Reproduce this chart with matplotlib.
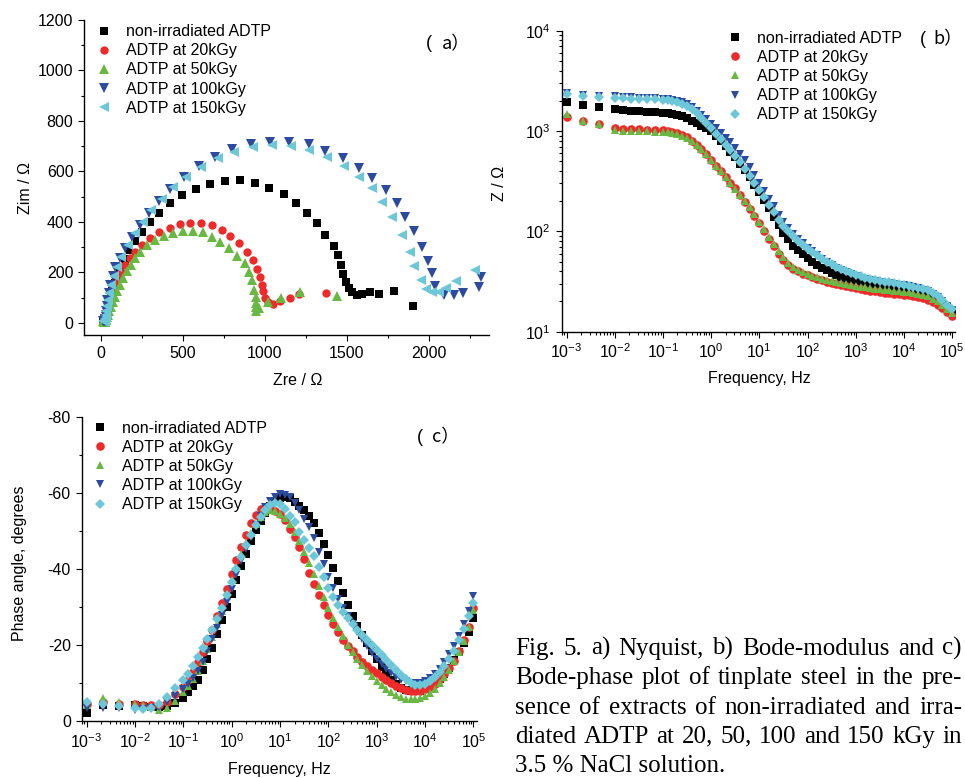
import numpy as np
import matplotlib
matplotlib.use("Agg")
import matplotlib.pyplot as plt
from matplotlib.lines import Line2D
from matplotlib.ticker import MultipleLocator, LogLocator, NullFormatter, FixedLocator

plt.rcParams['font.family'] = 'Liberation Sans'
plt.rcParams['mathtext.fontset'] = 'custom'
plt.rcParams['mathtext.rm'] = 'Liberation Sans'
plt.rcParams['mathtext.it'] = 'Liberation Sans:italic'
plt.rcParams['mathtext.bf'] = 'Liberation Sans:bold'
plt.rcParams['axes.unicode_minus'] = False

labels = ['non-irradiated ADTP', 'ADTP at 20kGy', 'ADTP at 50kGy',
          'ADTP at 100kGy', 'ADTP at 150kGy']
colors = ['#000000', '#EE2A2A', '#6AB844', '#2C4A9E', '#6CC8D8']

# ---- Nyquist (a): Zre / Zim in ohm, low frequency first ----
nyq_re_black = [1904, 1786, 1695, 1638, 1590, 1563, 1533, 1513, 1497, 1478, 1466, 1446, 1418, 1367, 1316,
                1256, 1189, 1118, 1027, 942, 849, 759, 666, 581, 495, 423, 358, 302, 251, 210, 175, 145,
                120, 100, 84, 70, 60, 52, 46, 41, 38, 35, 33, 31, 29, 27, 25, 22, 19, 16, 14]
nyq_im_black = [67, 128, 115, 124, 115, 111, 122, 137, 161, 194, 230, 267, 306, 348, 395,
                434, 474, 510, 536, 553, 565, 562, 552, 532, 507, 474, 437, 401, 362, 325, 290, 255,
                220, 188, 158, 128, 100, 75, 55, 40, 28, 20, 14, 10, 7, 6, 6, 7, 8, 8, 7]

nyq_re_red = [1370, 1206, 1151, 1094, 1049, 1020, 1000, 990, 980, 970, 952, 926, 892, 842, 790, 738,
              677, 612, 546, 480, 420, 352, 298, 251, 211, 180, 150, 125, 105, 88, 75, 64, 55, 47, 41,
              36, 32, 29, 27, 25, 23, 21, 19, 16, 13]
nyq_im_red = [120, 114, 100, 86, 76, 82, 100, 125, 150, 182, 214, 250, 282, 316, 345, 368,
              388, 397, 397, 391, 376, 359, 335, 309, 282, 256, 230, 203, 176, 150, 124, 100, 78, 58, 42,
              30, 21, 15, 10, 7, 6, 6, 7, 7, 6]

nyq_re_green = [1438, 1215, 1096, 1020, 962, 948, 946, 946, 943, 936, 922, 906, 880, 830, 779, 728,
                677, 620, 561, 499, 440, 383, 328, 281, 241, 211, 184, 160, 138, 118, 100, 85, 72, 61,
                52, 45, 39, 35, 32, 29, 27, 25, 23, 20, 17, 14]
nyq_im_green = [108, 124, 97, 84, 60, 48, 62, 80, 104, 131, 168, 203, 236, 265, 296, 322,
                342, 359, 366, 366, 355, 345, 329, 309, 282, 256, 230, 204, 178, 152, 128, 104, 82, 62,
                46, 33, 23, 16, 11, 7, 5, 4, 4, 5, 6, 6]

nyq_re_blue = [2315, 2303, 2205, 2151, 2090, 2035, 2015, 1995, 1955, 1906, 1853, 1803, 1736, 1655, 1574,
               1478, 1367, 1266, 1149, 1031, 917, 800, 694, 598, 507, 424, 355, 294, 237, 193, 150, 115,
               90, 72, 58, 48, 41, 36, 33, 31, 30, 29, 28, 27, 25, 23, 20, 17, 15]
nyq_im_blue = [181, 144, 120, 111, 111, 147, 197, 246, 300, 366, 421, 476, 525, 575, 615,
               654, 682, 709, 718, 718, 710, 688, 659, 623, 579, 530, 483, 434, 388, 342, 296, 256,
               220, 185, 150, 118, 90, 66, 47, 33, 23, 16, 11, 8, 7, 7, 8, 9, 9]

nyq_re_cyan = [2279, 2161, 2104, 2060, 2019, 1983, 1952, 1908, 1882, 1833, 1772, 1711, 1651, 1574, 1483,
               1381, 1270, 1159, 1043, 925, 814, 713, 612, 521, 440, 375, 308, 257, 207, 166, 126, 98,
               78, 62, 51, 43, 38, 34, 32, 30, 29, 28, 27, 25, 23, 20, 17, 15]
nyq_im_cyan = [210, 164, 137, 124, 124, 133, 168, 226, 282, 350, 421, 480, 533, 579, 622,
               659, 685, 701, 705, 695, 678, 652, 619, 579, 540, 490, 448, 401, 355, 309, 263, 222,
               185, 150, 118, 90, 66, 47, 33, 23, 16, 11, 8, 7, 7, 8, 9, 9]

# ---- Bode data (b, c) ----
freq = [0.001, 0.00215, 0.00464, 0.01, 0.0147, 0.0215, 0.0316, 0.0464, 0.0681,
        0.1, 0.126, 0.158, 0.2, 0.251, 0.316, 0.398, 0.501, 0.631, 0.794,
        1, 1.26, 1.58, 2, 2.51, 3.16, 3.98, 5.01, 6.31, 7.94,
        10, 12.6, 15.8, 20, 25.1, 31.6, 39.8, 50.1, 63.1, 79.4,
        100, 126, 158, 200, 251, 316, 398, 501, 631, 794,
        1000, 1260, 1580, 2000, 2510, 3160, 3980, 5010, 6310, 7940,
        10000, 12600, 15800, 20000, 25100, 31600, 39800, 50100, 63100, 79400,
        100000]
decade_ticks = [1e-3, 1e-2, 1e-1, 1e0, 1e1, 1e2, 1e3, 1e4, 1e5]

z_black = [1930, 1820, 1740, 1660, 1620, 1590, 1570, 1555, 1540,
           1520, 1505, 1485, 1455, 1410, 1350, 1270, 1200, 1130, 1070,
           1010, 900, 800, 710, 625, 545, 472, 405, 345, 292,
           246, 205, 170, 140, 116, 97, 83, 72, 65, 59,
           54, 50, 46.5, 43.5, 41, 38.8, 37, 35.3, 33.8, 32.5,
           31.4, 30.4, 29.6, 28.9, 28.3, 27.8, 27.4, 27, 26.6, 26.3,
           26, 25.6, 25.2, 24.6, 24, 23.2, 22.1, 20.7, 19.1, 17.5,
           16]
z_red = [1380, 1250, 1170, 1070, 1055, 1045, 1040, 1035, 1030,
         1020, 1005, 985, 955, 915, 865, 800, 730, 660, 590,
         515, 452, 397, 348, 305, 268, 232, 198, 168, 143,
         121, 101, 84, 71, 60, 52, 46, 42.5, 40, 38,
         36.5, 35, 33.7, 32.5, 31.5, 30.5, 29.7, 29, 28.3, 27.6,
         27, 26.5, 26, 25.6, 25.2, 24.8, 24.5, 24.2, 23.9, 23.6,
         23.3, 23, 22.6, 22.1, 21.5, 20.8, 19.8, 18.6, 17.2, 15.8,
         14.5]
z_green = [1480, 1270, 1170, 1030, 1010, 1000, 995, 990, 985,
           980, 970, 955, 930, 895, 850, 790, 725, 655, 585,
           515, 452, 397, 348, 305, 267, 232, 201, 173, 148,
           125, 105, 88, 74, 63, 55, 48.5, 44, 41, 39,
           37.5, 36, 34.8, 33.7, 32.7, 31.8, 31, 30.3, 29.6, 29,
           28.5, 28, 27.6, 27.2, 26.9, 26.6, 26.3, 26, 25.7, 25.4,
           25.1, 24.8, 24.4, 23.9, 23.3, 22.5, 21.4, 20.1, 18.6, 17,
           15.5]
z_blue = [2400, 2300, 2250, 2220, 2190, 2170, 2150, 2140, 2120,
          2100, 2080, 2050, 2000, 1930, 1840, 1720, 1590, 1460, 1320,
          1180, 1070, 960, 860, 770, 680, 595, 510, 435, 365,
          305, 255, 212, 177, 147, 124, 107, 94, 84, 76,
          69, 63, 58, 53.5, 50, 46.5, 43.5, 41, 39, 37.2,
          35.8, 34.6, 33.6, 32.7, 32, 31.4, 30.9, 30.4, 29.9, 29.4,
          28.9, 28.3, 27.7, 27, 26.2, 25.2, 23.8, 22, 20, 18.2,
          16.5]
z_cyan = [2360, 2250, 2200, 2150, 2120, 2100, 2090, 2080, 2070,
          2050, 2030, 2000, 1950, 1880, 1780, 1650, 1510, 1360, 1200,
          1060, 940, 830, 730, 640, 565, 490, 420, 360, 305,
          258, 218, 184, 155, 131, 114, 100, 90, 80, 73,
          67, 62, 57.5, 53.5, 50, 47, 44.5, 42, 40, 38.2,
          36.8, 35.5, 34.4, 33.5, 32.7, 32, 31.5, 31, 30.5, 30,
          29.4, 28.8, 28.2, 27.5, 26.8, 25.8, 24.4, 22.6, 20.5, 18.6,
          17]

# phase angle in degrees (plotted negative)
ph_black = [2.0, 4.3, 4.0, 4.1, 4.0, 3.8, 3.6, 4.0, 4.8,
            6.0, 7.5, 9.2, 10.8, 13.5, 16.3, 19.2, 22.8, 26.5, 30.0,
            33.4, 37.2, 40.8, 44.0, 47.2, 50.2, 52.7, 54.8, 56.5, 57.8,
            58.6, 59.0, 58.7, 57.6, 56.5, 55.5, 54.0, 52.0, 49.3, 46.6,
            43.6, 40.3, 36.9, 33.6, 30.4, 27.5, 25.0, 22.7, 20.5, 18.3,
            16.2, 14.3, 12.6, 10.8, 9.6, 8.8, 8.2, 7.9, 7.8, 7.9,
            8.3, 9.0, 9.9, 11.0, 12.3, 14.0, 16.0, 18.2, 20.5, 23.3,
            27.2]
ph_red = [4.5, 5.1, 4.6, 4.6, 4.2, 4.2, 4.2, 5.1, 7.0,
          9.0, 10.8, 13.0, 15.5, 18.2, 21.0, 24.0, 27.5, 31.0, 34.8,
          38.6, 42.3, 45.8, 49.0, 52.0, 54.2, 55.8, 56.3, 55.9, 55.2,
          54.5, 52.8, 50.6, 48.3, 45.8, 42.6, 38.8, 35.9, 33.2, 30.4,
          27.8, 25.5, 23.3, 21.4, 19.8, 18.3, 16.9, 15.6, 14.5, 13.5,
          12.5, 11.6, 10.8, 10.0, 9.3, 8.7, 8.2, 7.9, 7.8, 7.9,
          8.3, 8.9, 9.8, 11.0, 12.4, 14.0, 15.9, 18.5, 21.4, 24.8,
          29.6]
ph_green = [4.2, 6.0, 5.1, 4.6, 4.2, 3.8, 3.0, 3.3, 5.3,
            7.5, 9.2, 11.0, 13.2, 15.8, 18.8, 22.0, 25.4, 29.0, 32.8,
            37.0, 40.5, 43.8, 46.8, 49.5, 51.8, 53.7, 55.0, 55.5, 55.3,
            54.5, 53.3, 51.7, 49.7, 47.3, 44.5, 41.6, 38.6, 35.5, 32.6,
            29.8, 27.1, 24.6, 22.3, 20.1, 18.1, 16.3, 14.6, 13.1, 11.7,
            10.5, 9.4, 8.4, 7.6, 6.9, 6.3, 5.9, 5.7, 5.8, 6.1,
            6.6, 7.4, 8.5, 9.9, 11.6, 13.5, 15.7, 18.2, 21.0, 24.8,
            29.2]
ph_blue = [3.3, 3.5, 3.3, 3.0, 3.2, 3.4, 3.8, 5.0, 6.5,
           8.3, 9.8, 11.3, 13.2, 15.6, 18.5, 21.5, 24.5, 27.8, 31.2,
           34.8, 38.5, 42.0, 45.3, 48.5, 51.5, 54.0, 56.2, 57.9, 59.0,
           59.6, 59.5, 58.8, 57.4, 55.5, 53.2, 51.0, 48.2, 44.5, 41.3,
           37.8, 35.0, 32.0, 29.7, 27.5, 25.5, 23.5, 21.5, 19.7, 18.0,
           16.4, 15.0, 13.7, 12.6, 11.6, 10.9, 10.4, 10.1, 10.0, 10.0,
           10.4, 11.2, 12.4, 13.8, 15.5, 17.5, 19.8, 22.4, 25.4, 28.9,
           32.9]
ph_cyan = [5.1, 4.6, 4.0, 3.5, 3.2, 3.3, 4.6, 6.4, 8.6,
           10.8, 12.3, 14.5, 16.8, 19.2, 21.6, 24.0, 26.7, 29.8, 33.0,
           36.5, 40.0, 43.2, 46.2, 49.0, 51.5, 53.6, 55.4, 56.8, 57.4,
           57.0, 55.8, 54.0, 52.2, 49.6, 47.6, 45.6, 43.3, 40.6, 37.9,
           34.9, 32.6, 30.6, 28.7, 27.0, 25.4, 23.9, 22.5, 21.2, 19.9,
           18.7, 17.4, 16.1, 14.8, 13.5, 12.2, 11.0, 10.1, 9.5, 9.4,
           9.7, 10.4, 11.5, 12.9, 14.5, 16.3, 18.5, 21.2, 24.3, 27.6,
           30.9]

caption_lines = ['Fig. 5. a) Nyquist, b) Bode-modulus and c)',
                 'Bode-phase plot of tinplate steel in the pre-',
                 'sence of extracts of non-irradiated and irra-',
                 'diated ADTP at 20, 50, 100 and 150 kGy in',
                 '3.5 % NaCl solution.']

W, H = 965, 778
FS = 11.5
fig = plt.figure(figsize=(W / 100, H / 100), dpi=100)


def px_axes(left, top, right, bottom):
    return fig.add_axes([left / W, 1 - bottom / H, (right - left) / W, (bottom - top) / H])


def style_axes(ax):
    for s in ['top', 'right']:
        ax.spines[s].set_visible(False)
    for s in ['left', 'bottom']:
        ax.spines[s].set_linewidth(1.0)
    ax.tick_params(which='major', direction='out', length=4.3, width=0.8, labelsize=FS, pad=3.5)
    ax.tick_params(which='minor', direction='out', length=2.2, width=0.8)


def log_x(ax):
    ax.set_xscale('log')
    ax.xaxis.set_major_locator(FixedLocator(decade_ticks))
    ax.xaxis.set_minor_locator(LogLocator(base=10, subs=np.arange(2, 10), numticks=100))
    ax.xaxis.set_minor_formatter(NullFormatter())


def add_legend(ax, markers, sizes, x, y):
    handles = [Line2D([], [], ls='none', marker=m, ms=s, color=c, mew=0)
               for m, s, c in zip(markers, sizes, colors)]
    ax.legend(handles, labels, loc='upper left', bbox_to_anchor=(x, y), frameon=False,
              fontsize=FS, handlelength=1.0, handletextpad=0.85, labelspacing=0.26,
              borderpad=0, borderaxespad=0)


# ---------------- (a) Nyquist ----------------
ax_a = px_axes(84.3, 20, 489, 335)
style_axes(ax_a)
mk_a = ['s', 'o', '^', 'v', '<']
ms_a = [5.3, 6.0, 6.5, 6.5, 6.5]
nyq = [(nyq_re_black, nyq_im_black), (nyq_re_red, nyq_im_red), (nyq_re_green, nyq_im_green),
       (nyq_re_blue, nyq_im_blue), (nyq_re_cyan, nyq_im_cyan)]
for (re, im), m, s, c in zip(nyq, mk_a, ms_a, colors):
    ax_a.plot(re, im, ls='none', marker=m, ms=s, color=c, mew=0)
ax_a.set_xlim(-100, 2365)
ax_a.set_ylim(-48, 1200)
ax_a.xaxis.set_major_locator(MultipleLocator(500))
ax_a.xaxis.set_minor_locator(MultipleLocator(250))
ax_a.yaxis.set_major_locator(MultipleLocator(200))
ax_a.yaxis.set_minor_locator(MultipleLocator(100))
ax_a.set_xlabel('Zre / Ω', fontsize=FS)
ax_a.set_ylabel('Zim / Ω', fontsize=FS)
ax_a.xaxis.set_label_coords(0.528, -0.146)
ax_a.yaxis.set_label_coords(-0.145, 0.467)
add_legend(ax_a, mk_a, ms_a, 0.030, 0.987)

# ---------------- (b) Bode modulus ----------------
ax_b = px_axes(561.7, 30.7, 955, 331.7)
style_axes(ax_b)
log_x(ax_b)
ax_b.set_yscale('log')
ax_b.yaxis.set_major_locator(FixedLocator([1e1, 1e2, 1e3, 1e4]))
ax_b.yaxis.set_minor_locator(LogLocator(base=10, subs=np.arange(2, 10), numticks=100))
ax_b.yaxis.set_minor_formatter(NullFormatter())
mk_bc = ['s', 'o', '^', 'v', 'D']
ms_bc = [5.2, 6.2, 6.3, 6.3, 4.6]
for z, m, s, c in zip([z_black, z_red, z_green, z_blue, z_cyan], mk_bc, ms_bc, colors):
    ax_b.plot(freq, z, ls='none', marker=m, ms=s, color=c, mew=0)
ax_b.set_xlim(10 ** -3.1, 10 ** 5.06)
ax_b.set_ylim(10, 1e4)
ax_b.set_xlabel('Frequency, Hz', fontsize=FS)
ax_b.set_ylabel('Z / Ω', fontsize=FS)
ax_b.xaxis.set_label_coords(0.502, -0.154)
ax_b.yaxis.set_label_coords(-0.159, 0.494)
add_legend(ax_b, mk_bc, ms_bc, 0.421, 1.0)

# ---------------- (c) Bode phase ----------------
ax_c = px_axes(81.7, 416.7, 477.3, 721)
style_axes(ax_c)
log_x(ax_c)
for p, m, s, c in zip([ph_black, ph_red, ph_green, ph_blue, ph_cyan], mk_bc, ms_bc, colors):
    ax_c.plot(freq, -np.array(p), ls='none', marker=m, ms=s, color=c, mew=0)
ax_c.set_xlim(10 ** -3.1, 10 ** 5.08)
ax_c.set_ylim(0, -80)
ax_c.yaxis.set_major_locator(MultipleLocator(20))
ax_c.yaxis.set_minor_locator(MultipleLocator(10))
ax_c.set_xlabel('Frequency, Hz', fontsize=FS)
ax_c.set_ylabel('Phase angle, degrees', fontsize=FS)
ax_c.xaxis.set_label_coords(0.499, -0.158)
ax_c.yaxis.set_label_coords(-0.158, 0.519)
add_legend(ax_c, mk_bc, ms_bc, 0.027, 0.9875)

for ax in (ax_a, ax_b, ax_c):
    ax.xaxis.label.set_va('center')
    ax.yaxis.label.set_va('center')

# panel tags: opening bracket set apart from the letter, as in the figure
for paren_x, letter, letter_x, y in [(429, 'a）', 456, 44), (923, 'b）', 948, 39), (420, 'c）', 446, 437)]:
    fig.text(paren_x / W, 1 - y / H, '(', fontsize=13, ha='center', va='center')
    fig.text(letter_x / W, 1 - y / H, letter, fontsize=13, family=['Noto Sans CJK SC', 'Liberation Sans'],
             ha='center', va='center')

# caption, justified like the printed page
renderer = fig.canvas.get_renderer()
left, right = 515, 962
for i, line in enumerate(caption_lines):
    yb = 1 - (655 + 29.25 * i) / H
    if i == len(caption_lines) - 1:
        fig.text(left / W, yb, line, fontsize=18, family='Liberation Serif', va='baseline')
        continue
    words = line.split(' ')
    widths = []
    for w in words:
        t = fig.text(0.5, 0.5, w, fontsize=18, family='Liberation Serif')
        widths.append(t.get_window_extent(renderer).width)
        t.remove()
    gap = (right - left - sum(widths)) / (len(words) - 1)
    x = left
    for w, wd in zip(words, widths):
        fig.text(x / W, yb, w, fontsize=18, family='Liberation Serif', va='baseline')
        x += wd + gap

fig.savefig('out.png', dpi=100)
